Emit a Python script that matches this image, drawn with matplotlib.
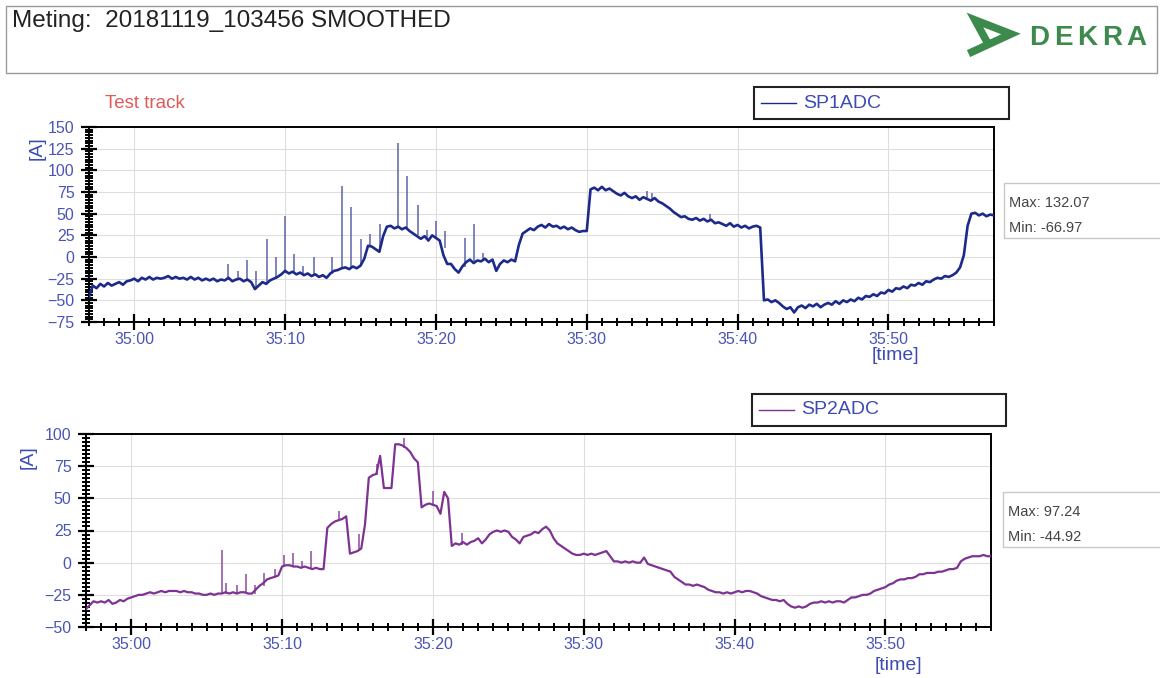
import numpy as np
import matplotlib
matplotlib.use("Agg")
import matplotlib.pyplot as plt
from matplotlib.ticker import MultipleLocator, AutoMinorLocator, FuncFormatter
from matplotlib.patches import Rectangle
from matplotlib.lines import Line2D

plt.rcParams['font.family'] = ['Liberation Sans', 'DejaVu Sans']

W, H = 1160, 678

# ---- data (seconds after 35:00, sampled every 0.25 s) ----
t_start = -3.0
t_step = 0.25

sp1 = [
    -46, -33, -36, -31,  -34, -30, -33, -31,  -29, -32, -28, -27,   # -3 .. 0
    -25, -28, -24, -26,  -23, -26, -24, -25,  -24, -22, -25, -23,   # 0 .. 3
    -25, -24, -26, -23,  -26, -24, -27, -25,  -27, -25, -28, -26,   # 3 .. 6
    -27, -24, -28, -26,  -25, -28, -26, -29,  -37, -33, -29, -31,   # 6 .. 9
    -27, -25, -23, -20,  -16, -19, -17, -20,  -18, -21, -19, -22,   # 9 .. 12
    -20, -23, -21, -24,  -19, -16, -15, -13,  -12, -14, -11, -13,   # 12 .. 15
    -10, -2, 13, 12,     9, 6, 24, 35,        36, 33, 35, 32,       # 15 .. 18
    34, 30, 27, 24,      21, 24, 19, 25,      22, 19, 2, -8,        # 18 .. 21
    -8, -14, -18, -11,   -6, -3, -7, -4,      -5, -2, -6, -3,       # 21 .. 24
    -16, -8, -4, -6,     -3, -5, 14, 27,      30, 33, 31, 35,       # 24 .. 27
    37, 34, 38, 35,      36, 33, 35, 32,      34, 31, 29, 30,       # 27 .. 30
    30, 78, 80, 77,      81, 77, 79, 76,      73, 71, 74, 70,       # 30 .. 33
    68, 70, 66, 69,      67, 65, 68, 64,      62, 59, 56, 52,       # 33 .. 36
    49, 46, 47, 44,      43, 45, 42, 44,      41, 43, 39, 40,       # 36 .. 39
    38, 36, 39, 35,      37, 34, 36, 33,      35, 36, 34, -50,      # 39 .. 42
    -49, -52, -50, -53,  -57, -60, -58, -64,  -58, -56, -59, -55,   # 42 .. 45
    -57, -54, -58, -55,  -53, -55, -51, -54,  -50, -52, -49, -51,   # 45 .. 48
    -47, -49, -45, -46,  -43, -45, -41, -42,  -38, -40, -36, -37,   # 48 .. 51
    -34, -36, -32, -33,  -30, -32, -28, -29,  -26, -24, -25, -22,   # 51 .. 54
    -23, -21, -18, -12,  2, 36, 50, 51,       48, 50, 47, 49,       # 54 .. 57
    48,
]

sp2 = [
    -36, -33, -30, -31,  -30, -31, -29, -32,  -31, -29, -30, -28,   # -3 .. 0
    -27, -26, -25, -25,  -24, -23, -24, -23,  -22, -23, -22, -22,   # 0 .. 3
    -22, -23, -22, -23,  -23, -24, -24, -25,  -25, -24, -25, -24,   # 3 .. 6
    -24, -23, -24, -23,  -24, -23, -23, -24,  -24, -21, -18, -16,   # 6 .. 9
    -13, -12, -11, -10,  -3, -2, -2, -3,      -3, -4, -3, -4,       # 9 .. 12
    -5, -4, -5, -5,      27, 30, 32, 33,      34, 36, 7, 8,         # 12 .. 15
    9, 11, 30, 66,       68, 69, 83, 58,      58, 58, 92, 92,       # 15 .. 18
    91, 89, 86, 81,      78, 43, 45, 46,      45, 44, 38, 55,       # 18 .. 21
    50, 13, 15, 14,      16, 14, 16, 17,      19, 15, 18, 22,       # 21 .. 24
    24, 25, 24, 25,      24, 20, 18, 15,      20, 21, 22, 24,       # 24 .. 27
    23, 26, 28, 25,      19, 15, 13, 11,      9, 7, 6, 6,           # 27 .. 30
    7, 6, 7, 6,          7, 8, 9, 5,          1, 1, 0, 1,           # 30 .. 33
    0, 1, 0, 0,          4, -1, -2, -3,       -4, -5, -6, -7,       # 33 .. 36
    -11, -13, -15, -17,  -17, -18, -17, -18,  -19, -21, -22, -23,   # 36 .. 39
    -23, -24, -23, -24,  -23, -22, -23, -22,  -22, -23, -24, -26,   # 39 .. 42
    -27, -28, -29, -29,  -30, -29, -32, -34,  -35, -34, -35, -34,   # 42 .. 45
    -32, -31, -31, -30,  -31, -30, -31, -30,  -30, -31, -29, -27,   # 45 .. 48
    -27, -26, -25, -25,  -24, -22, -21, -20,  -19, -17, -16, -14,   # 48 .. 51
    -13, -13, -12, -12,  -11, -9, -9, -8,     -8, -8, -7, -7,       # 51 .. 54
    -6, -5, -5, -4,      1, 3, 4, 5,          5, 5, 6, 5,           # 54 .. 57
    5,
]

# short spikes: time, foot, peak
sp1_spike_t = [6.2, 6.9, 7.5, 8.1, 8.8, 9.4, 10.0, 10.6, 11.2, 11.9, 13.1, 13.8,
               14.4, 15.0, 15.6, 16.3, 17.5, 18.1, 18.8, 19.4, 20.0, 20.6, 21.9,
               22.5, 23.1, 34.0, 34.3, 38.2]
sp1_spike_lo = [-26, -26, -27, -35, -30, -25, -18, -18, -20, -21, -20, -14,
                -13, -10, 12, 8, 35, 33, 25, 21, 22, 10, -12,
                -5, -5, 66, 66, 42]
sp1_spike_hi = [-8, -16, -4, -16, 21, 0, 47, 4, -10, 0, 0, 82,
                58, 21, 26, 38, 132.07, 93, 60, 31, 42, 30, 22,
                38, 5, 76, 74, 50]

sp2_spike_t = [6.0, 6.3, 7.0, 7.6, 8.2, 8.8, 9.5, 10.1, 10.7, 11.3, 11.9, 13.8,
               15.1, 16.3, 18.1, 20.0, 21.9]
sp2_spike_lo = [-24, -24, -24, -23, -24, -18, -12, -3, -3, -4, -4, 32,
                9, 68, 89, 44, 14]
sp2_spike_hi = [10, -16, -17, -9, -17, -8, -5, 6, 7.5, 1, 9, 40,
                22, 77, 97.24, 56, 23]

stats = [("Max: 132.07", "Min: -66.97"), ("Max: 97.24", "Min: -44.92")]
names = ["SP1ADC", "SP2ADC"]

t1 = t_start + t_step * np.arange(len(sp1))
t2 = t_start + t_step * np.arange(len(sp2))

fig = plt.figure(figsize=(W / 100, H / 100), dpi=100)


def fx(x):
    return x / W


def fy(y):
    return 1 - y / H


def axes_px(x0, y0, x1, y1):
    return fig.add_axes([fx(x0), fy(y1), fx(x1) - fx(x0), fy(y0) - fy(y1)])


tick_col = '#4b55b5'
label_col = '#3e4bb3'


def style(ax, ylo, yhi):
    ax.set_xlim(-3.0, 57.0)
    ax.set_ylim(ylo, yhi)
    ax.xaxis.set_major_locator(MultipleLocator(10))
    ax.xaxis.set_minor_locator(MultipleLocator(1))
    ax.yaxis.set_major_locator(MultipleLocator(25))
    ax.yaxis.set_minor_locator(AutoMinorLocator(8))
    ax.xaxis.set_major_formatter(FuncFormatter(
        lambda v, p: "%d:%02d" % ((2100 + int(round(v))) // 60, (2100 + int(round(v))) % 60)))
    ax.tick_params(which='major', direction='inout', length=11, width=1.6,
                   colors='black', labelcolor=tick_col, labelsize=11.5)
    ax.tick_params(which='minor', direction='inout', length=6, width=1.4, colors='black')
    ax.tick_params(axis='y', which='major', pad=5)
    ax.tick_params(axis='x', which='major', pad=2)
    ax.grid(True, which='major', color='#dedede', lw=0.8)
    ax.set_axisbelow(True)
    for s in ax.spines.values():
        s.set_linewidth(1.4)
        s.set_color('black')


# header
fig.patches.append(Rectangle((fx(6), fy(73)), fx(1157) - fx(6), fy(6) - fy(73),
                             transform=fig.transFigure, fill=False, ec='#9a9a9a', lw=1.0))
fig.text(fx(12), fy(21), "Meting:  20181119_103456 SMOOTHED", fontsize=17.5,
         va='center', ha='left', color='#222222')
green = '#3d8b4c'
fig.add_artist(Line2D([fx(987), fx(975), fx(1011), fx(972)], [fy(42), fy(20), fy(34), fy(52)],
                      transform=fig.transFigure, color=green, lw=5.5, solid_joinstyle='miter'))
for ch, x in zip("DEKRA", [1029, 1054, 1077, 1102, 1126]):
    fig.text(fx(x), fy(38), ch, fontsize=20, fontweight='bold', color=green,
             va='center', ha='left')

fig.text(fx(105), fy(104), "Test track", fontsize=13.5, color='#e05a5a', va='center', ha='left')

panels = [
    dict(box=(89, 127, 994, 322), lim=(-75, 150), t=t1, v=sp1, col='#1c2a8c', scol='#5d64a8',
         lw=1.9, st=sp1_spike_t, slo=sp1_spike_lo, shi=sp1_spike_hi,
         leg=(754, 87, 1009, 119), stat=(1004, 183, 1162, 238), alab=(37, 148), tlab=(895, 356)),
    dict(box=(86, 434, 991, 627), lim=(-50, 100), t=t2, v=sp2, col='#7e3292', scol='#8d4a9c',
         lw=1.6, st=sp2_spike_t, slo=sp2_spike_lo, shi=sp2_spike_hi,
         leg=(752, 394, 1006, 426), stat=(1003, 492, 1162, 547), alab=(28, 457), tlab=(898, 665)),
]

for i, p in enumerate(panels):
    ax = axes_px(*p['box'])
    style(ax, *p['lim'])
    ax.vlines(p['st'], p['slo'], p['shi'], color=p['scol'], lw=1.1, zorder=2)
    ax.plot(p['t'], p['v'], color=p['col'], lw=p['lw'], zorder=3)

    x0, y0, x1, y1 = p['leg']
    fig.patches.append(Rectangle((fx(x0), fy(y1)), fx(x1) - fx(x0), fy(y0) - fy(y1),
                                 transform=fig.transFigure, fill=False, ec='#222222', lw=1.5))
    ym = (y0 + y1) / 2
    fig.add_artist(Line2D([fx(x0 + 7), fx(x0 + 42)], [fy(ym), fy(ym)],
                          transform=fig.transFigure, color=p['col'], lw=1.0))
    fig.text(fx(x0 + 49), fy(ym), names[i], fontsize=14, color=label_col,
             va='center', ha='left')

    x0, y0, x1, y1 = p['stat']
    fig.patches.append(Rectangle((fx(x0), fy(y1)), fx(x1) - fx(x0), fy(y0) - fy(y1),
                                 transform=fig.transFigure, fill=False, ec='#c8c8c8', lw=1.0))
    fig.text(fx(x0 + 5), fy(y0 + 20), stats[i][0], fontsize=10.5, color='#444444',
             va='center', ha='left')
    fig.text(fx(x0 + 5), fy(y0 + 45), stats[i][1], fontsize=10.5, color='#444444',
             va='center', ha='left')

    fig.text(fx(p['alab'][0]), fy(p['alab'][1]), "[A]", fontsize=14, color=label_col,
             rotation=90, va='center', ha='center')
    fig.text(fx(p['tlab'][0]), fy(p['tlab'][1]), "[time]", fontsize=14, color=label_col,
             va='center', ha='center')

fig.savefig("out.png", dpi=100)
